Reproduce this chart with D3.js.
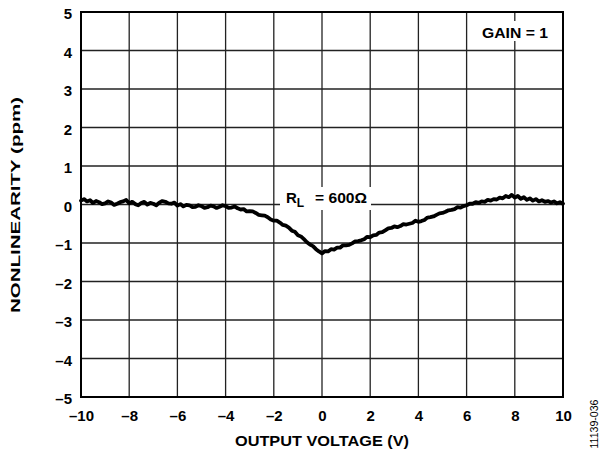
<!DOCTYPE html>
<html><head><meta charset="utf-8">
<script src="https://cdn.jsdelivr.net/npm/d3@7/dist/d3.min.js"></script>
<style>body{margin:0;background:#fff}svg{display:block}</style>
</head><body>
<svg id="c" width="602" height="453"></svg>
<script>
const xTicks = [-10,-8,-6,-4,-2,0,2,4,6,8,10];
const yTicks = [-5,-4,-3,-2,-1,0,1,2,3,4,5];
const voltage = [-10,-9.875,-9.75,-9.625,-9.5,-9.375,-9.25,-9.125,-9,-8.875,-8.75,-8.625,-8.5,-8.375,-8.25,-8.125,-8,-7.875,-7.75,-7.625,-7.5,-7.375,-7.25,-7.125,-7,-6.875,-6.75,-6.625,-6.5,-6.375,-6.25,-6.125,-6,-5.875,-5.75,-5.625,-5.5,-5.375,-5.25,-5.125,-5,-4.875,-4.75,-4.625,-4.5,-4.375,-4.25,-4.125,-4,-3.875,-3.75,-3.625,-3.5,-3.375,-3.25,-3.125,-3,-2.875,-2.75,-2.625,-2.5,-2.375,-2.25,-2.125,-2,-1.875,-1.75,-1.625,-1.5,-1.375,-1.25,-1.125,-1,-0.875,-0.75,-0.625,-0.5,-0.375,-0.25,-0.125,0,0.125,0.25,0.375,0.5,0.625,0.75,0.875,1,1.125,1.25,1.375,1.5,1.625,1.75,1.875,2,2.125,2.25,2.375,2.5,2.625,2.75,2.875,3,3.125,3.25,3.375,3.5,3.625,3.75,3.875,4,4.125,4.25,4.375,4.5,4.625,4.75,4.875,5,5.125,5.25,5.375,5.5,5.625,5.75,5.875,6,6.125,6.25,6.375,6.5,6.625,6.75,6.875,7,7.125,7.25,7.375,7.5,7.625,7.75,7.875,8,8.125,8.25,8.375,8.5,8.625,8.75,8.875,9,9.125,9.25,9.375,9.5,9.625,9.75,9.875,10];
const nonlinearity = [0.10,0.14,0.08,0.11,0.04,0.09,0.06,0.01,0.03,0.08,0.05,-0.01,0.02,0.06,0.08,0.12,0.03,0.07,0.01,-0.02,0.04,0.07,0.00,0.04,0.02,-0.02,0.05,0.09,0.07,0.03,0.02,0.05,-0.03,0.01,-0.05,-0.01,-0.02,-0.07,-0.06,-0.02,-0.04,-0.09,-0.07,-0.03,-0.05,-0.09,-0.06,-0.02,-0.04,-0.09,-0.08,-0.05,-0.10,-0.13,-0.12,-0.18,-0.17,-0.18,-0.22,-0.27,-0.28,-0.29,-0.33,-0.39,-0.42,-0.42,-0.47,-0.53,-0.55,-0.60,-0.68,-0.71,-0.80,-0.83,-0.90,-0.98,-1.04,-1.08,-1.16,-1.22,-1.27,-1.21,-1.22,-1.16,-1.17,-1.12,-1.12,-1.06,-1.06,-1.05,-1.01,-0.96,-0.95,-0.93,-0.90,-0.84,-0.85,-0.80,-0.79,-0.73,-0.72,-0.67,-0.62,-0.61,-0.57,-0.59,-0.56,-0.51,-0.52,-0.50,-0.48,-0.42,-0.45,-0.43,-0.40,-0.34,-0.33,-0.31,-0.27,-0.23,-0.22,-0.19,-0.15,-0.14,-0.12,-0.07,-0.08,-0.04,-0.02,0.02,0.02,0.06,0.04,0.08,0.07,0.12,0.10,0.14,0.13,0.18,0.16,0.22,0.19,0.25,0.18,0.22,0.15,0.19,0.12,0.16,0.10,0.14,0.08,0.11,0.07,0.09,0.05,0.08,0.03,0.06,0.02];

const fmt = d => d < 0 ? "\u2013" + Math.abs(d) : String(d);
const svg = d3.select("#c");
const L = 81, T = 12, R = 563, B = 397;
const x = d3.scaleLinear().domain([-10,10]).range([L,R]);
const y = d3.scaleLinear().domain([-5,5]).range([B,T]);
const font = "'Liberation Sans', Arial, Helvetica, sans-serif";

// grid
svg.append("g").selectAll("line").data(xTicks.slice(1,-1)).join("line")
  .attr("x1", d=>x(d)).attr("x2", d=>x(d)).attr("y1", T).attr("y2", B)
  .attr("stroke", "#222").attr("stroke-width", 1.3);
svg.append("g").selectAll("line").data(yTicks.slice(1,-1)).join("line")
  .attr("y1", d=>y(d)).attr("y2", d=>y(d)).attr("x1", L).attr("x2", R)
  .attr("stroke", "#222").attr("stroke-width", 1.3);

// label boxes (white) covering grid
svg.append("rect").attr("x", 479).attr("y", 21).attr("width", 72).attr("height", 20).attr("fill", "#fff");
svg.append("rect").attr("x", 280).attr("y", 187).attr("width", 91).attr("height", 23).attr("fill", "#fff");

// curve
const data = voltage.map((v,i)=>({v, n: nonlinearity[i]}));
svg.append("path").datum(data)
  .attr("d", d3.line().x(d=>x(d.v)).y(d=>y(d.n)))
  .attr("fill","none").attr("stroke","#000").attr("stroke-width",3.8)
  .attr("stroke-linejoin","round").attr("stroke-linecap","round");

// frame
svg.append("rect").attr("x", L).attr("y", T).attr("width", R-L).attr("height", B-T)
  .attr("fill","none").attr("stroke","#000").attr("stroke-width",2);

// axes labels via d3 axes
const xAxis = svg.append("g").attr("transform", `translate(0,${B})`)
  .call(d3.axisBottom(x).tickValues(xTicks).tickFormat(fmt).tickSize(0).tickPadding(13));
xAxis.select(".domain").remove();
xAxis.selectAll("text").attr("font-family", font).attr("font-weight","bold").attr("font-size", 15).attr("fill","#000");

const yAxis = svg.append("g").attr("transform", `translate(${L},0)`)
  .call(d3.axisLeft(y).tickValues(yTicks).tickFormat(fmt).tickSize(0).tickPadding(9));
yAxis.select(".domain").remove();
yAxis.selectAll("text").attr("font-family", font).attr("font-weight","bold").attr("font-size", 15).attr("fill","#000").attr("dy","0.45em");

// titles
svg.append("text").attr("x", 322).attr("y", 446).attr("text-anchor","middle")
  .attr("font-family", font).attr("font-weight","bold").attr("font-size", 15)
  .attr("textLength", 174).attr("lengthAdjust","spacingAndGlyphs").text("OUTPUT VOLTAGE (V)");
svg.append("text").attr("transform", `translate(20,205) rotate(-90)`).attr("text-anchor","middle")
  .attr("font-family", font).attr("font-weight","bold").attr("font-size", 13)
  .attr("textLength", 216).attr("lengthAdjust","spacingAndGlyphs").text("NONLINEARITY (ppm)");

// annotations
svg.append("text").attr("x", 515).attr("y", 37.5).attr("text-anchor","middle")
  .attr("font-family", font).attr("font-weight","bold").attr("font-size", 15)
  .attr("textLength", 66).attr("lengthAdjust","spacingAndGlyphs").text("GAIN = 1");
const rl = svg.append("text").attr("x", 286).attr("y", 203)
  .attr("font-family", font).attr("font-weight","bold").attr("font-size", 15);
rl.append("tspan").text("R");
rl.append("tspan").attr("font-size", 12).attr("dy", 4).text("L");
rl.append("tspan").attr("x", 315).attr("dy", -4).attr("textLength", 52).attr("lengthAdjust","spacingAndGlyphs").text("= 600\u03A9");

// figure id
svg.append("text").attr("transform", "translate(598,424) rotate(-90)").attr("text-anchor","middle")
  .attr("font-family", font).attr("font-size", 10).attr("textLength", 49).attr("lengthAdjust","spacingAndGlyphs").text("11139-036");
</script>
</body></html>
